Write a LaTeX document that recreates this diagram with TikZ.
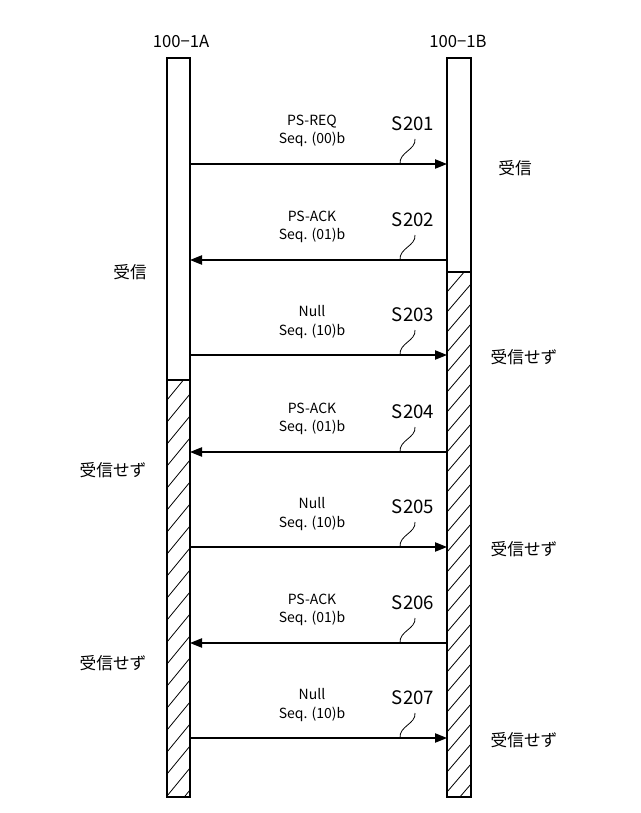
\documentclass[tikz,border=0pt]{standalone}
\usepackage{fontspec}
\setmainfont{Noto Sans CJK JP}
\usetikzlibrary{arrows.meta, positioning, calc}
\tikzstyle{bar} = [draw, black, line width=0.9pt]
\tikzstyle{msg} = [-{Triangle[length=9pt,width=7pt]}, line width=0.9pt]
\tikzstyle{msglabel} = [align=center, font=\fontsize{10.5}{14}\selectfont, inner sep=0pt]
\tikzstyle{steplabel} = [font=\fontsize{14}{15}\selectfont, inner sep=0pt]
\tikzstyle{side} = [font=\fontsize{12.5}{14}\selectfont, inner sep=0pt]
\begin{document}
\begin{tikzpicture}[x=0.75pt, y=-0.75pt]
\useasboundingbox (0,0) rectangle (640,813);
%Bars
\coordinate (aTop) at (167,58); \coordinate (aBot) at (190,797);
\coordinate (bTop) at (447,58); \coordinate (bBot) at (471,797);
\begin{scope}
  \clip (167,380) rectangle (190,797);
  \foreach \k in {0,...,24} \draw[line width=0.6pt] (167,400+\k*22) -- (190,372+\k*22);
\end{scope}
\begin{scope}
  \clip (447,272) rectangle (471,797);
  \foreach \k in {0,...,28} \draw[line width=0.6pt] (447,292+\k*20) -- (471,264+\k*20);
\end{scope}
\draw[bar] (aTop) rectangle (aBot);
\draw[bar] (167,380) -- (190,380);
\draw[bar] (bTop) rectangle (bBot);
\draw[bar] (447,272) -- (471,272);
\node[side] (nameA) at (181,42) {100−1A};
\node[side] (nameB) at (458,42) {100−1B};
%Messages
\foreach \y/\dir/\top/\seq/\s in {164/r/PS-REQ/00/S201, 260/l/PS-ACK/01/S202, 355/r/Null/10/S203,
    452/l/PS-ACK/01/S204, 547/r/Null/10/S205, 643/l/PS-ACK/01/S206, 738/r/Null/10/S207} {
  \coordinate (a\s) at (190,\y);
  \coordinate (b\s) at (447,\y);
  \if r\dir \draw[msg] (a\s) -- (b\s); \else \draw[msg] (b\s) -- (a\s); \fi
  \node[msglabel] (m\s) at (312,\y-33) {\top\\Seq. (\seq)b};
  \node[steplabel] (l\s) at (413,\y-40) {\s};
  \draw[line width=0.6pt] (415,\y-25) .. controls (416,\y-14) and (399,\y-12) .. (400,\y);
}
%Side texts
\node[side] at (515,168) {受信};
\node[side] at (130,272) {受信};
\node[side] at (524,357) {受信せず};
\node[side] at (113,470) {受信せず};
\node[side] at (524,549) {受信せず};
\node[side] at (113,663) {受信せず};
\node[side] at (524,740) {受信せず};
\end{tikzpicture}
\end{document}
